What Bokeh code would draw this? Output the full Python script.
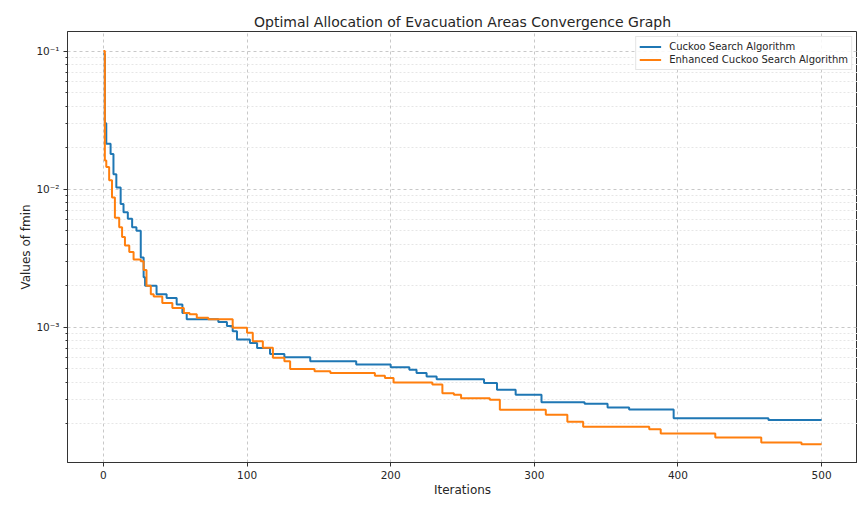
from bokeh.plotting import figure
from bokeh.models import FixedTicker, Range1d
from bokeh.embed import file_html
from bokeh.resources import INLINE

# ---- data ----
cs_iter = [0, 1, 2, 5, 7, 9, 12, 14, 17, 20, 23, 26, 28, 29, 37, 44, 51, 55, 58, 80, 86, 90, 93,
           102, 107, 116, 126, 144, 176, 200, 213, 218, 225, 232, 265, 274, 287, 305, 335, 351,
           366, 397, 463, 500]
cs_fmin = [0.095, 0.030, 0.0213, 0.018, 0.0128, 0.0103, 0.0078, 0.0068, 0.0061, 0.0053, 0.0050,
           0.0032, 0.0023, 0.0020, 0.00173, 0.00163, 0.00146, 0.00127, 0.00114, 0.00109, 0.00102,
           0.000935, 0.000814, 0.000769, 0.000708, 0.00064, 0.000605, 0.000566, 0.000536,
           0.000512, 0.000492, 0.000465, 0.00044, 0.00042, 0.000394, 0.000352, 0.000324,
           0.000286, 0.000279, 0.000262, 0.000253, 0.000219, 0.000213, 0.000213]

ecs_iter = [0, 1, 2, 4, 6, 8, 11, 13, 15, 18, 21, 26, 28, 30, 33, 35, 41, 48, 56, 60, 65, 73, 90,
            100, 104, 111, 118, 126, 130, 147, 158, 189, 196, 202, 229, 236, 244, 249, 269, 276,
            308, 323, 334, 380, 388, 426, 458, 486, 500]
ecs_fmin = [0.1, 0.0161, 0.0145, 0.0116, 0.0087, 0.0062, 0.0053, 0.0045, 0.0039, 0.0035, 0.0031,
            0.0030, 0.0026, 0.0020, 0.00173, 0.00167, 0.00150, 0.00138, 0.00127, 0.00124,
            0.00117, 0.00114, 0.00099, 0.00091, 0.00079, 0.00071, 0.000600, 0.000566, 0.000497,
            0.000479, 0.000465, 0.000445, 0.000428, 0.000398, 0.000385, 0.000333, 0.000324,
            0.000306, 0.000298, 0.000252, 0.000232, 0.000207, 0.00019, 0.000182, 0.00017,
            0.000159, 0.000146, 0.000142, 0.000142]

series_names = ["Cuckoo Search Algorithm", "Enhanced Cuckoo Search Algorithm"]
x_ticks = [0, 100, 200, 300, 400, 500]
y_ticks = [1e-3, 1e-2, 1e-1]
y_tick_labels = ["10\u207b\u00b3", "10\u207b\u00b2", "10\u207b\u00b9"]

FONT = "DejaVu Sans"
TXT = "#262626"

p = figure(width=857, height=505, y_axis_type="log",
           x_range=Range1d(-25, 525), y_range=Range1d(1.047e-4, 0.1387),
           output_backend="svg", toolbar_location=None,
           title="Optimal Allocation of Evacuation Areas Convergence Graph",
           min_border_left=67, min_border_right=0, min_border_top=31, min_border_bottom=43)

p.title.align = "center"
p.title.text_font = FONT
p.title.text_font_size = "14px"
p.title.text_font_style = "normal"
p.title.text_color = TXT
p.title.standoff = 4

p.outline_line_color = "#333333"
p.outline_line_width = 1
p.outline_line_alpha = 1

# axes
p.xaxis.ticker = FixedTicker(ticks=x_ticks, minor_ticks=[])
minor = [m * 10.0 ** e for e in (-4, -3, -2) for m in range(2, 10)]
p.yaxis.ticker = FixedTicker(ticks=y_ticks, minor_ticks=minor)
p.yaxis.major_label_overrides = {t: l for t, l in zip(y_ticks, y_tick_labels)}

for ax in (p.xaxis, p.yaxis):
    ax.axis_line_color = "#333333"
    ax.major_tick_line_color = "#333333"
    ax.minor_tick_line_color = "#333333"
    ax.major_tick_out = 4
    ax.major_tick_in = 0
    ax.minor_tick_out = 2
    ax.minor_tick_in = 0
    ax.major_label_text_font = FONT
    ax.major_label_text_font_size = "10.5px"
    ax.major_label_text_color = TXT
    ax.axis_label_text_font = FONT
    ax.axis_label_text_font_size = "12px"
    ax.axis_label_text_font_style = "normal"
    ax.axis_label_text_color = TXT
    ax.major_label_standoff = 4

p.xaxis.axis_label_standoff = 1
p.yaxis.axis_label_standoff = 0
p.xaxis.axis_label = "Iterations"
p.yaxis.axis_label = "Values of fmin"

# grids
p.xgrid.grid_line_color = "#c8c8c8"
p.xgrid.grid_line_dash = "3 3"
p.ygrid.grid_line_color = "#c8c8c8"
p.ygrid.grid_line_dash = "3 3"
p.ygrid.minor_grid_line_color = "#e6e6e6"
p.ygrid.minor_grid_line_dash = "2 2"

# data lines
p.step(cs_iter, cs_fmin, mode="after", line_color="#1f77b4", line_width=2,
       legend_label=series_names[0])
p.step(ecs_iter, ecs_fmin, mode="after", line_color="#ff7f0e", line_width=2,
       legend_label=series_names[1])

lg = p.legend[0]
lg.location = "top_right"
lg.margin = 5
lg.padding = 3
lg.spacing = 0
lg.label_height = 13
lg.glyph_height = 13
lg.glyph_width = 22
lg.label_standoff = 8
lg.label_text_font = FONT
lg.label_text_font_size = "10px"
lg.label_text_color = TXT
lg.border_line_color = "#cccccc"
lg.background_fill_alpha = 0.85

open("out.html", "w").write(file_html(p, INLINE))
